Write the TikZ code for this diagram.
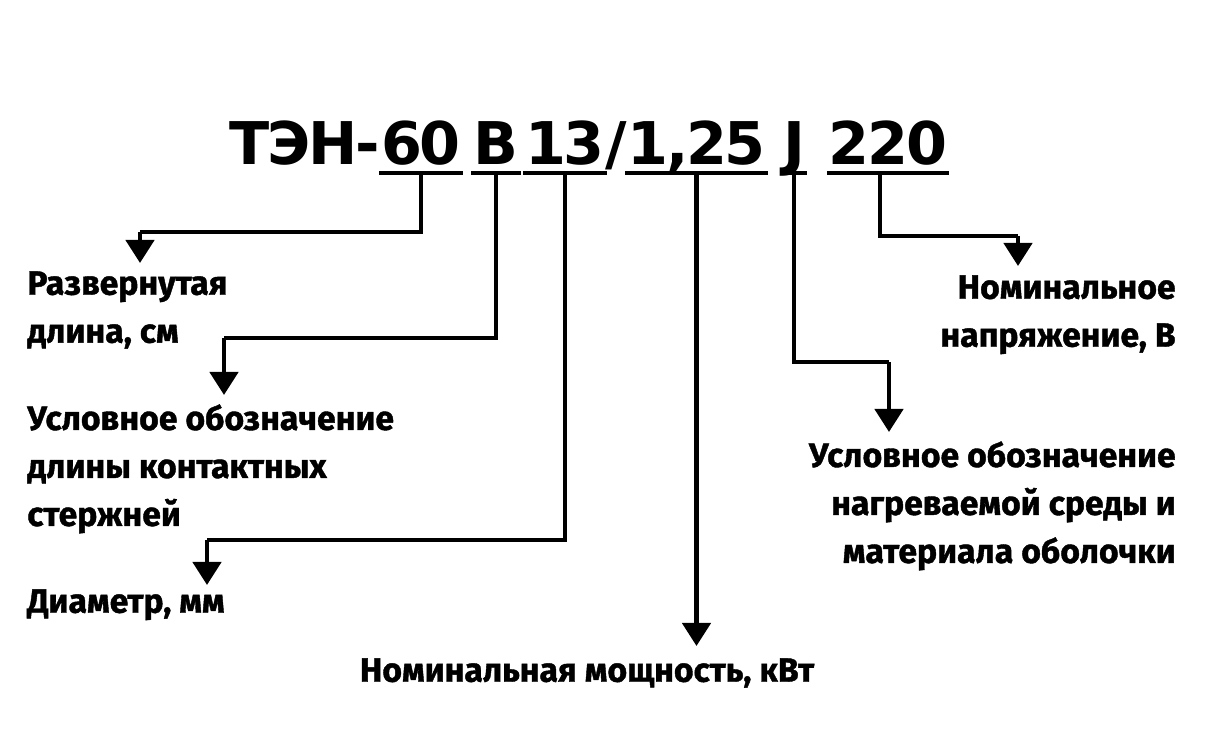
\documentclass[tikz,border=0pt]{standalone}
\usepackage{fontspec}
\setmainfont{Fira Sans}[BoldFeatures={FakeBold=1.2}]
\newfontfamily\titlefont{DejaVu Sans}[LetterSpace=-4]
\usepackage{xcolor}
\usepackage{tikz}
\usetikzlibrary{arrows.meta,positioning}

\tikzset{
	part/.style={anchor=south, inner xsep=1pt, inner ysep=0pt, text height=0.88cm, text depth=0.16cm, font=\titlefont\fontsize{33.5}{33.5}\selectfont\bfseries},
	uline/.style={line width=1.8pt},
	conn/.style={line width=2.6pt},
	tip/.style={line width=2.6pt, -{Triangle[length=0.46cm, width=0.56cm]}},
	lbl/.style={inner sep=0pt, font=\fontsize{19.2}{27.3}\selectfont\bfseries}
}

\begin{document}
\begin{tikzpicture}
	\useasboundingbox (0, 0) rectangle (24.18, -15.08);
	% title, one node per part
	\node [part, anchor=south east, inner xsep=0pt] (ten) at (7.6, -3.46) {ТЭН-};
	\node [part] (n60) at (8.42, -3.46) {60};
	\node [part] (nB) at (9.92, -3.46) {В};
	\node [part] (n13) at (11.3, -3.46) {13};
	\node [part, inner xsep=0pt] (sl) at (12.32, -3.46) {/};
	\node [part] (n125) at (13.93, -3.46) {1,25};
	\node [part] (nJ) at (15.88, -3.46) {J};
	\node [part] (n220) at (17.76, -3.46) {220};
	\foreach \n in {n60, nB, n13, n125, nJ, n220}
		\draw [uline] (\n.south west) to (\n.south east);
	% labels
	\node [lbl, anchor=north west, align=left] (dlina) at (0.54, -5.42) {Развернутая\\длина, см};
	\node [lbl, anchor=north west, align=left] (kont) at (0.54, -8.08) {Условное обозначение\\длины контактных\\стержней};
	\node [lbl, anchor=north west, align=left] (diam) at (0.54, -11.78) {Диаметр, мм};
	\node [lbl, anchor=north] (mosh) at (11.74, -13.16) {Номинальная мощность, кВт};
	\node [lbl, anchor=north east, align=right] (sreda) at (23.52, -8.82) {Условное обозначение\\нагреваемой среды и\\материала оболочки};
	\node [lbl, anchor=north east, align=right] (napr) at (23.52, -5.5) {Номинальное\\напряжение, В};
	% connectors
	\coordinate (k60) at (2.8, -4.64);
	\coordinate (kB) at (4.48, -6.76);
	\coordinate (k13) at (4.14, -10.8);
	\coordinate (kJ) at (17.78, -7.24);
	\coordinate (k220) at (20.36, -4.72);
	\draw [conn] (n60.south) |- (k60);
	\draw [tip] (k60) to ++(0, -0.62);
	\draw [conn] (nB.south) |- (kB);
	\draw [tip] (kB) to ++(0, -1.14);
	\draw [conn] (n13.south) |- (k13);
	\draw [tip] (k13) to ++(0, -0.9);
	\draw [tip] (n125.south) to ([yshift=0.24cm]n125.south |- mosh.north);
	\draw [conn] (nJ.south) |- (kJ);
	\draw [tip] (kJ) to ++(0, -1.4);
	\draw [conn] ([xshift=-0.16cm]n220.south) |- (k220);
	\draw [tip] (k220) to ++(0, -0.6);
\end{tikzpicture}
\end{document}
